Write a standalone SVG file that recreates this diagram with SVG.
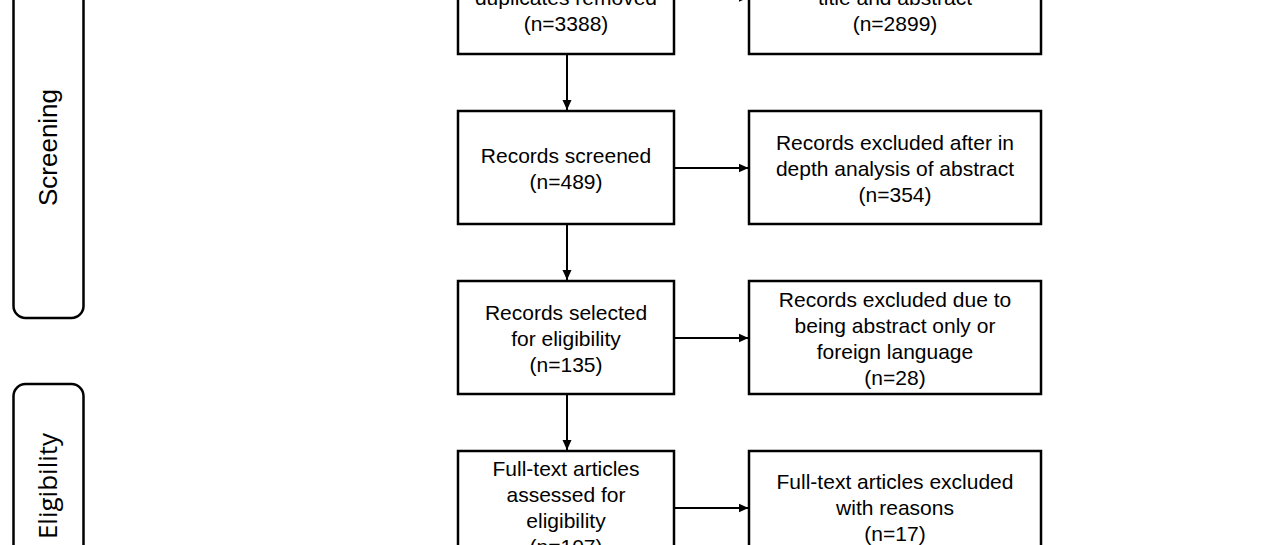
<svg xmlns="http://www.w3.org/2000/svg" width="1280" height="545" viewBox="0 0 1280 545">
  <style>
    .box { fill: #ffffff; stroke: #000000; stroke-width: 2.5; }
    .stage { fill: #ffffff; stroke: #000000; stroke-width: 2.5; }
    .t { font-family: "Liberation Sans", Arial, sans-serif; font-size: 21px; fill: #000000; text-anchor: middle; }
    .st { font-family: "Liberation Sans", Arial, sans-serif; font-size: 26px; fill: #000000; text-anchor: middle; }
    .st2 { font-family: "Open Sans", "Liberation Sans", sans-serif; font-size: 26px; fill: #000000; text-anchor: middle; }
    .conn { stroke: #000000; stroke-width: 2; fill: none; marker-end: url(#arrow); }
  </style>
  <defs>
    <marker id="arrow" markerUnits="userSpaceOnUse" markerWidth="10" markerHeight="10" refX="10" refY="5" orient="auto">
      <path d="M0,0.5 L10,5 L0,9.5 z" fill="#000000"/>
    </marker>
  </defs>
  <rect width="1280" height="545" fill="#ffffff"/>

  <g id="stage-screening">
    <rect class="stage" x="13.5" y="-30" width="70" height="348" rx="12"/>
    <text class="st" transform="translate(57,147.5) rotate(-90)">Screening</text>
  </g>
  <g id="stage-eligibility">
    <rect class="stage" x="13.5" y="384" width="70" height="200" rx="12"/>
    <text class="st2" transform="translate(57,486) rotate(-90)">Eligibility</text>
  </g>

  <g id="connectors">
    <line class="conn" x1="567" y1="54" x2="567" y2="110"/>
    <line class="conn" x1="567" y1="224" x2="567" y2="280"/>
    <line class="conn" x1="567" y1="394" x2="567" y2="450"/>
    <line class="conn" x1="674" y1="-2.5" x2="748.5" y2="-2.5"/>
    <line class="conn" x1="674" y1="168" x2="748.5" y2="168"/>
    <line class="conn" x1="674" y1="338" x2="748.5" y2="338"/>
    <line class="conn" x1="674" y1="508" x2="748.5" y2="508"/>
  </g>

  <g id="node-duplicates">
    <rect class="box" x="458" y="-59" width="216" height="113"/>
    <text class="t" x="566" y="4.5">duplicates removed</text>
    <text class="t" x="566" y="30.5">(n=3388)</text>
  </g>
  <g id="node-excluded-title">
    <rect class="box" x="749" y="-59" width="292" height="113"/>
    <text class="t" x="895" y="4.5">title and abstract</text>
    <text class="t" x="895" y="30.5">(n=2899)</text>
  </g>

  <g id="node-screened">
    <rect class="box" x="458" y="111" width="216" height="113"/>
    <text class="t" x="566" y="162.5">Records screened</text>
    <text class="t" x="566" y="188.5">(n=489)</text>
  </g>
  <g id="node-excluded-abstract">
    <rect class="box" x="749" y="111" width="292" height="113"/>
    <text class="t" x="895" y="149.5">Records excluded after in</text>
    <text class="t" x="895" y="175.5">depth analysis of abstract</text>
    <text class="t" x="895" y="201.5">(n=354)</text>
  </g>

  <g id="node-selected">
    <rect class="box" x="458" y="281" width="216" height="113"/>
    <text class="t" x="566" y="319.5">Records selected</text>
    <text class="t" x="566" y="345.5">for eligibility</text>
    <text class="t" x="566" y="371.5">(n=135)</text>
  </g>
  <g id="node-excluded-language">
    <rect class="box" x="749" y="281" width="292" height="113"/>
    <text class="t" x="895" y="306.5">Records excluded due to</text>
    <text class="t" x="895" y="332.5">being abstract only or</text>
    <text class="t" x="895" y="358.5">foreign language</text>
    <text class="t" x="895" y="384.5">(n=28)</text>
  </g>

  <g id="node-fulltext">
    <rect class="box" x="458" y="451" width="216" height="113"/>
    <text class="t" x="566" y="476">Full-text articles</text>
    <text class="t" x="566" y="502">assessed for</text>
    <text class="t" x="566" y="528">eligibility</text>
    <text class="t" x="566" y="554">(n=107)</text>
  </g>
  <g id="node-fulltext-excluded">
    <rect class="box" x="749" y="451" width="292" height="113"/>
    <text class="t" x="895" y="489">Full-text articles excluded</text>
    <text class="t" x="895" y="515">with reasons</text>
    <text class="t" x="895" y="541">(n=17)</text>
  </g>
</svg>
